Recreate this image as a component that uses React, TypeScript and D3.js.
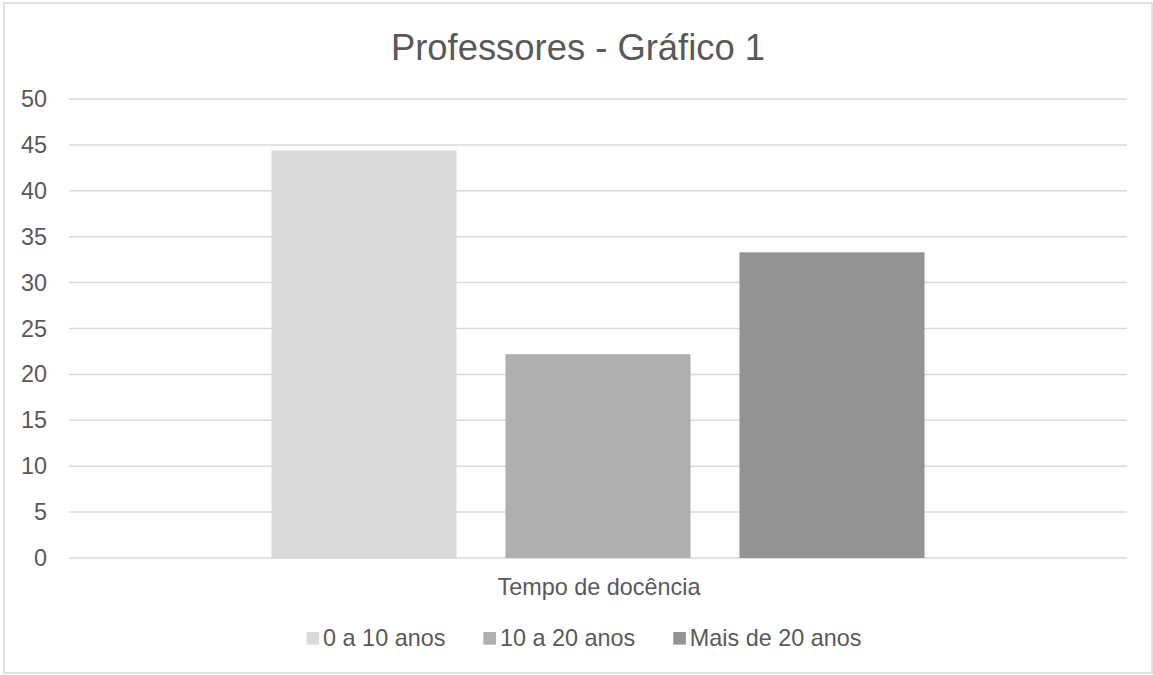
import React, { useEffect, useRef } from "react";
import * as d3 from "d3";

const title = "Professores - Gráfico 1";
const categories = ["Tempo de docência"];
const seriesNames = ["0 a 10 anos", "10 a 20 anos", "Mais de 20 anos"];
const seriesValues = [44.4, 22.2, 33.3];
const seriesColors = ["#dadada", "#afafaf", "#939393"];
const yTicks = [0, 5, 10, 15, 20, 25, 30, 35, 40, 45, 50];

const W = 1153;
const H = 675;
const FONT = "'Liberation Sans', Arial, sans-serif";
const TEXT = "#595959";
const GRID = "#d9d9d9";

export default function App() {
  const ref = useRef<SVGSVGElement | null>(null);

  useEffect(() => {
    const svg = d3.select(ref.current);
    svg.selectAll("*").remove();

    const plot = { left: 69, right: 1127, top: 99, bottom: 558 };

    // chart border
    svg.append("rect")
      .attr("x", 4).attr("y", 3).attr("width", 1148).attr("height", 670)
      .attr("fill", "#fff").attr("stroke", GRID).attr("stroke-width", 1.5);

    // title
    svg.append("text")
      .attr("x", 578).attr("y", 60)
      .attr("text-anchor", "middle")
      .attr("font-family", FONT).attr("font-size", 36.4)
      .attr("fill", TEXT)
      .text(title);

    const y = d3.scaleLinear().domain([0, 50]).range([plot.bottom, plot.top]);
    const x0 = d3.scaleBand<string>().domain(categories)
      .range([plot.left, plot.right]).paddingInner(0).paddingOuter(0.31);
    const x1 = d3.scaleBand<string>().domain(seriesNames)
      .range([0, x0.bandwidth()]).paddingInner(0.209).paddingOuter(0);

    // gridlines
    svg.append("g").selectAll("line").data(yTicks).join("line")
      .attr("x1", plot.left).attr("x2", plot.right)
      .attr("y1", (d) => y(d)).attr("y2", (d) => y(d))
      .attr("stroke", GRID).attr("stroke-width", 1.5);

    // y tick labels
    svg.append("g").selectAll("text").data(yTicks).join("text")
      .attr("x", 47).attr("y", (d) => y(d) + 8)
      .attr("text-anchor", "end")
      .attr("font-family", FONT).attr("font-size", 23.4)
      .attr("fill", TEXT)
      .text((d) => String(d));

    // bars
    categories.forEach((cat) => {
      const g = svg.append("g").attr("transform", `translate(${x0(cat)},0)`);
      g.selectAll("rect").data(seriesNames).join("rect")
        .attr("x", (d) => x1(d) as number)
        .attr("width", x1.bandwidth())
        .attr("y", (_d, i) => y(seriesValues[i]))
        .attr("height", (_d, i) => plot.bottom - y(seriesValues[i]))
        .attr("fill", (_d, i) => seriesColors[i]);
    });

    // x category labels
    svg.append("g").selectAll("text").data(categories).join("text")
      .attr("x", (d) => (x0(d) as number) + x0.bandwidth() / 2 + 1)
      .attr("y", 595)
      .attr("text-anchor", "middle")
      .attr("font-family", FONT).attr("font-size", 23.4)
      .attr("fill", TEXT)
      .text((d) => d);

    // legend
    const lg = svg.append("g");
    const sq = 12.6;
    const gapText = 4;
    const gapItem = 38;
    const items = seriesNames.map((name, i) => {
      const gi = lg.append("g");
      gi.append("rect").attr("x", 0).attr("y", 632).attr("width", sq).attr("height", sq)
        .attr("fill", seriesColors[i]);
      const t = gi.append("text").attr("x", sq + gapText).attr("y", 646)
        .attr("font-family", FONT).attr("font-size", 23.4).attr("fill", TEXT)
        .text(name);
      const w = (t.node() as SVGTextElement).getComputedTextLength();
      return { gi, w: sq + gapText + w };
    });
    const total = d3.sum(items, (d) => d.w) + gapItem * (items.length - 1);
    let cx = 584 - total / 2;
    items.forEach((it) => {
      it.gi.attr("transform", `translate(${cx},0)`);
      cx += it.w + gapItem;
    });
  }, []);

  return (
    <svg
      ref={ref}
      width={W}
      height={H}
      style={{ position: "absolute", left: 0, top: 0, background: "#fff" }}
    />
  );
}
